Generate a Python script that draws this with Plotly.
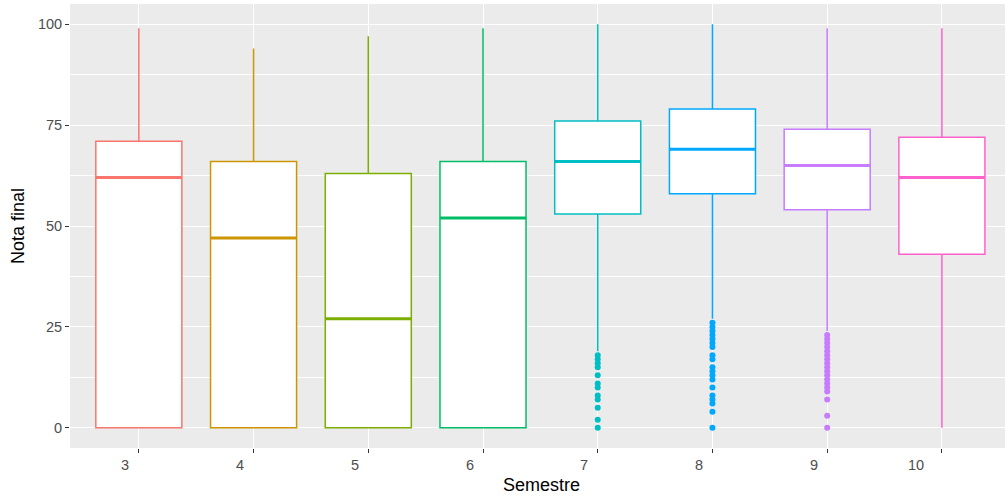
import plotly.graph_objects as go

# ---- data ----
categories = ["3", "4", "5", "6", "7", "8", "9", "10"]
upper_whisker = [99, 94, 97, 99, 100, 100, 99, 99]
q3_values = [71, 66, 63, 66, 76, 79, 74, 72]
median_values = [62, 47, 27, 52, 66, 69, 65, 62]
q1_values = [0, 0, 0, 0, 53, 58, 54, 43]
lower_whisker = [0, 0, 0, 0, 19, 27, 24, 0]
outliers = {
    "7": [18, 17, 16, 15, 13, 11, 10, 8, 7, 5, 2, 0],
    "8": [26, 25, 24, 23, 22, 21, 20, 18, 17, 15, 14, 13, 12, 10, 8, 7, 6, 4, 0],
    "9": [23, 22, 21, 20, 19, 18, 17, 16, 15, 14, 13, 12, 11, 10, 9, 7, 3, 0],
}
y_ticks = [0, 25, 50, 75, 100]

colors = ["#F8766D", "#CD9600", "#7CAE00", "#00BE67",
          "#00BFC4", "#00A9FF", "#C77CFF", "#FF61CC"]
box_width = 0.75

fig = go.Figure()
for i, cat in enumerate(categories):
    xpos = i + 1
    col = colors[i]
    fig.add_trace(go.Box(
        x=[xpos], q1=[q1_values[i]], median=[median_values[i]], q3=[q3_values[i]],
        lowerfence=[lower_whisker[i]], upperfence=[upper_whisker[i]],
        width=box_width, fillcolor="white", line=dict(color=col, width=1.5),
        boxpoints=False, showlegend=False, hoverinfo="skip", whiskerwidth=0,
    ))
    # thicker median line
    fig.add_trace(go.Scatter(
        x=[xpos - box_width / 2, xpos + box_width / 2],
        y=[median_values[i], median_values[i]],
        mode="lines", line=dict(color=col, width=3),
        showlegend=False, hoverinfo="skip",
    ))
    if cat in outliers:
        pts = outliers[cat]
        fig.add_trace(go.Scatter(
            x=[xpos] * len(pts), y=pts, mode="markers",
            marker=dict(color=col, size=6, line=dict(width=0)),
            showlegend=False, hoverinfo="skip",
        ))

# x tick labels (slightly offset left as in reference)
for i, cat in enumerate(categories):
    fig.add_annotation(
        x=i + 1, y=0, xref="x", yref="paper", text=cat, showarrow=False,
        xanchor="center", yanchor="middle", yshift=-17,
        xshift=-26 if len(cat) > 1 else -13.5,
        font=dict(family="Liberation Sans, Arial", size=14.5, color="#4D4D4D"),
    )

# x axis title centred on the (wider) reference panel
fig.add_annotation(
    x=0.5, y=0, xref="paper", yref="paper", text="Semestre", showarrow=False,
    xanchor="center", yanchor="middle", yshift=-37, xshift=4,
    font=dict(family="Liberation Sans, Arial", size=18, color="black"),
)

fig.update_layout(
    width=1005, height=498,
    margin=dict(l=70, r=0, t=4, b=50),
    paper_bgcolor="white", plot_bgcolor="#EBEBEB",
    boxmode="overlay",
    font=dict(family="Liberation Sans, Arial", size=14.5, color="#4D4D4D"),
)
fig.update_xaxes(
    range=[0.4, 8.55], tickmode="array", tickvals=list(range(1, len(categories) + 1)),
    showticklabels=False, ticks="outside", ticklen=4, tickwidth=1, tickcolor="#333333",
    showgrid=True, gridcolor="white", gridwidth=1.2, zeroline=False, showline=False,
    automargin=False,
)
fig.update_yaxes(
    range=[-5, 105], tickmode="array", tickvals=y_ticks,
    ticks="outside", ticklen=4, tickwidth=1, tickcolor="#333333",
    showgrid=True, gridcolor="white", gridwidth=1.2, zeroline=False, showline=False,
    automargin=False,
    minor=dict(tickmode="array", tickvals=[12.5, 37.5, 62.5, 87.5],
               showgrid=True, gridcolor="white", gridwidth=0.6, ticks=""),
    tickfont=dict(size=14.5, color="#4D4D4D"),
    title=dict(text="Nota final", font=dict(size=18, color="black"), standoff=8),
)

fig.write_html(
    "out.html",
    config={"displayModeBar": False},
    post_script="document.body.style.margin='0';document.body.style.overflow='hidden';",
)
